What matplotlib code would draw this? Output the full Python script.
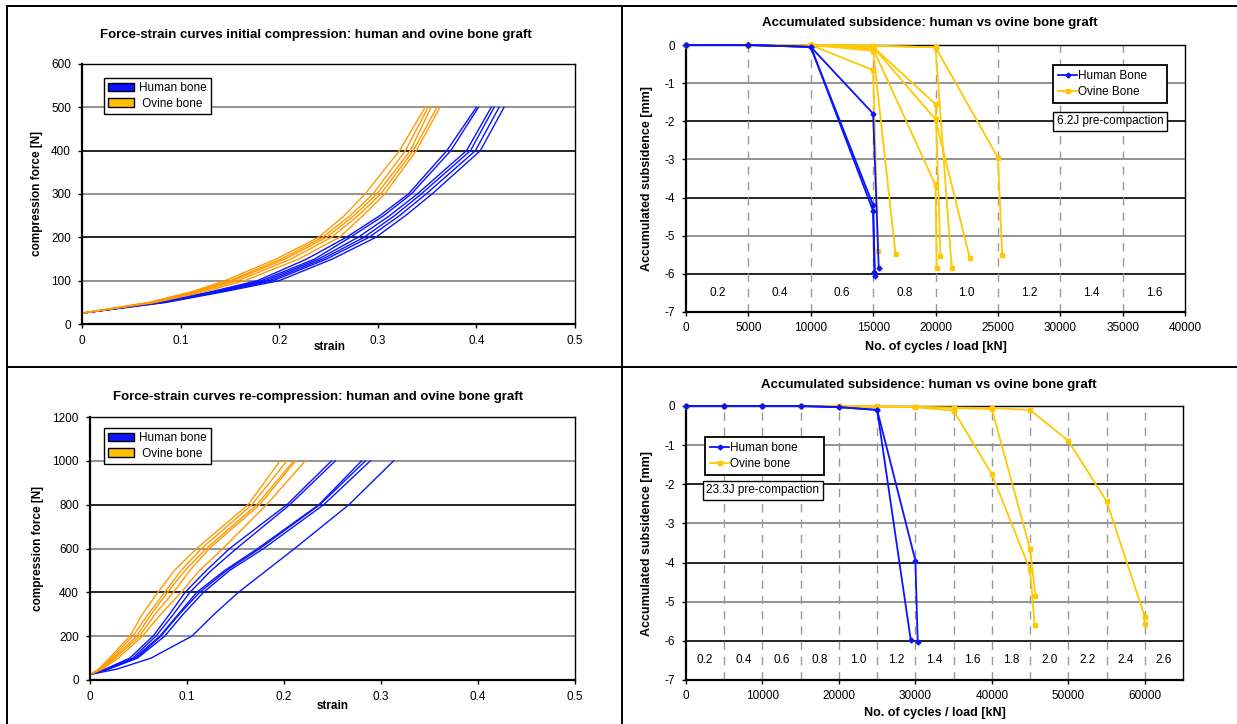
import matplotlib
matplotlib.use("Agg")
import matplotlib.pyplot as plt
from matplotlib.patches import Patch
from matplotlib.lines import Line2D

plt.rcParams['font.family'] = ['Liberation Sans', 'DejaVu Sans']
plt.rcParams['axes.unicode_minus'] = False

#===data: force-strain, initial compression===
tl_force = [25, 50, 75, 100, 150, 200, 250, 300, 400, 500]
tl_ovine = [
    [0, 0.068, 0.112, 0.145, 0.197, 0.240, 0.266, 0.287, 0.322, 0.348],
    [0, 0.070, 0.115, 0.150, 0.202, 0.244, 0.272, 0.295, 0.328, 0.351],
    [0, 0.071, 0.117, 0.153, 0.206, 0.248, 0.276, 0.299, 0.333, 0.354],
    [0, 0.073, 0.120, 0.158, 0.212, 0.253, 0.280, 0.303, 0.336, 0.360],
    [0, 0.075, 0.125, 0.165, 0.220, 0.261, 0.285, 0.307, 0.339, 0.363],
]
tl_human = [
    [0, 0.078, 0.132, 0.178, 0.228, 0.268, 0.302, 0.331, 0.370, 0.400],
    [0, 0.079, 0.135, 0.182, 0.236, 0.272, 0.306, 0.334, 0.374, 0.402],
    [0, 0.080, 0.137, 0.186, 0.240, 0.280, 0.312, 0.340, 0.390, 0.415],
    [0, 0.082, 0.139, 0.190, 0.244, 0.286, 0.317, 0.344, 0.394, 0.418],
    [0, 0.083, 0.141, 0.194, 0.248, 0.291, 0.322, 0.349, 0.399, 0.423],
    [0, 0.086, 0.145, 0.200, 0.254, 0.298, 0.328, 0.355, 0.404, 0.428],
]

#===data: force-strain, re-compression===
bl_force = [25, 50, 100, 200, 300, 400, 500, 600, 800, 1000]
bl_ovine = [
    [0, 0.009, 0.020, 0.041, 0.054, 0.070, 0.087, 0.110, 0.163, 0.196],
    [0, 0.010, 0.022, 0.044, 0.060, 0.077, 0.094, 0.115, 0.167, 0.203],
    [0, 0.011, 0.024, 0.048, 0.063, 0.080, 0.098, 0.120, 0.172, 0.210],
    [0, 0.012, 0.026, 0.051, 0.067, 0.086, 0.103, 0.123, 0.175, 0.212],
    [0, 0.013, 0.029, 0.054, 0.073, 0.094, 0.113, 0.137, 0.182, 0.222],
]
bl_human = [
    [0, 0.016, 0.041, 0.065, 0.082, 0.098, 0.120, 0.144, 0.203, 0.249],
    [0, 0.017, 0.044, 0.068, 0.086, 0.103, 0.125, 0.151, 0.206, 0.253],
    [0, 0.018, 0.046, 0.072, 0.091, 0.110, 0.139, 0.173, 0.236, 0.280],
    [0, 0.019, 0.048, 0.073, 0.092, 0.113, 0.141, 0.175, 0.237, 0.284],
    [0, 0.019, 0.049, 0.077, 0.096, 0.117, 0.144, 0.179, 0.241, 0.289],
    [0, 0.028, 0.063, 0.105, 0.128, 0.153, 0.182, 0.211, 0.267, 0.313],
]

#===data: subsidence 6.2J===
tr_human_x = [
    [0, 5000, 10000, 15000, 15450],
    [0, 5000, 10000, 15000, 15150],
    [0, 5000, 10000, 15000, 15100],
]
tr_human_y = [
    [0, 0, -0.05, -1.8, -5.85],
    [0, 0, -0.05, -4.2, -6.05],
    [0, 0, -0.05, -4.35, -5.95],
]
tr_ovine_x = [
    [0, 5000, 10000, 15000, 15400],
    [0, 5000, 10000, 15000, 16800],
    [0, 5000, 10000, 15000, 20000, 20100],
    [0, 5000, 10000, 15000, 20000, 20400],
    [0, 5000, 10000, 15000, 20000, 22750],
    [0, 5000, 10000, 15000, 20000, 21300],
    [0, 5000, 10000, 15000, 20000, 25000, 25350],
]
tr_ovine_y = [
    [0, 0, 0, -0.66, -5.39],
    [0, 0, 0, -0.15, -5.49],
    [0, 0, 0, -0.10, -3.67, -5.84],
    [0, 0, 0, -0.05, -1.55, -5.53],
    [0, 0, 0, -0.05, -1.95, -5.59],
    [0, 0, 0, -0.02, -0.06, -5.84],
    [0, 0, 0, -0.02, -0.06, -2.95, -5.51],
]
tr_loads = ["0.2", "0.4", "0.6", "0.8", "1.0", "1.2", "1.4", "1.6"]

#===data: subsidence 23.3J===
br_human_x = [
    [0, 5000, 10000, 15000, 20000, 25000, 30000, 30300],
    [0, 5000, 10000, 15000, 20000, 25000, 29400],
]
br_human_y = [
    [0, 0, 0, 0, -0.03, -0.1, -3.95, -6.02],
    [0, 0, 0, 0, -0.03, -0.1, -5.99],
]
br_ovine_x = [
    [0, 5000, 10000, 15000, 20000, 25000, 30000, 35000, 40000, 45000, 45600],
    [0, 5000, 10000, 15000, 20000, 25000, 30000, 35000, 40000, 45000, 45700],
    [0, 5000, 10000, 15000, 20000, 25000, 30000, 35000, 40000, 45000, 50000, 55000, 60000, 60000],
]
br_ovine_y = [
    [0, 0, 0, 0, 0, -0.02, -0.03, -0.12, -1.74, -4.19, -5.6],
    [0, 0, 0, 0, 0, -0.02, -0.03, -0.05, -0.08, -3.65, -4.85],
    [0, 0, 0, 0, 0, -0.01, -0.02, -0.04, -0.05, -0.1, -0.89, -2.43, -5.38, -5.58],
]
br_loads = ["0.2", "0.4", "0.6", "0.8", "1.0", "1.2", "1.4", "1.6", "1.8", "2.0", "2.2", "2.4", "2.6"]

BLUE = '#0a14ff'
ORANGE = '#ff9a00'
GOLD = '#ffc800'
W, H = 1237, 724

def px(x, y):
    return x / W, 1 - y / H

def box(l, t, r, b):
    return [l / W, 1 - b / H, (r - l) / W, (b - t) / H]

fig = plt.figure(figsize=(W / 100, H / 100), dpi=100)

#===table borders===
for (x0, y0, x1, y1) in [(7, 6, 7, 724), (622, 6, 622, 724), (7, 6, 1237, 6), (7, 367, 1237, 367)]:
    a, b = px(x0, y0)
    c, d = px(x1, y1)
    fig.add_artist(Line2D([a, c], [b, d], color='k', lw=1.4, transform=fig.transFigure))

def style(ax, grid_vals):
    for s in ['left', 'bottom']:
        ax.spines[s].set_linewidth(1.6)
    for s in ['top', 'right']:
        ax.spines[s].set_linewidth(1.0)
    ax.tick_params(labelsize=8.5, length=3, width=1, direction='out', pad=5)
    for i, g in enumerate(grid_vals):
        ax.axhline(g, color='k' if i % 2 else '#808080', lw=1.2, zorder=0.5)

#===top left===
ax1 = fig.add_axes(box(82, 64, 575, 324))
for s in tl_human:
    ax1.plot(s, tl_force, color=BLUE, lw=1.0)
for s in tl_ovine:
    ax1.plot(s, tl_force, color=ORANGE, lw=1.0)
ax1.set_xlim(0, 0.5)
ax1.set_ylim(0, 600)
ax1.set_xticks([0, 0.1, 0.2, 0.3, 0.4, 0.5])
ax1.set_xticklabels(['0', '0.1', '0.2', '0.3', '0.4', '0.5'])
ax1.set_yticks(range(0, 601, 100))
style(ax1, [500, 400, 300, 200, 100])
ax1.set_ylabel('compression force [N]', fontsize=8.5, fontweight='bold', labelpad=6)
ax1.set_xlabel('strain', fontsize=8.5, fontweight='bold')
ax1.xaxis.set_label_coords(0.503, -0.065)
leg_h = [Patch(facecolor=BLUE, edgecolor='k', label='Human bone'),
         Patch(facecolor='#ffc000', edgecolor='k', label=' Ovine bone')]
l1 = ax1.legend(handles=leg_h, loc='upper left', bbox_to_anchor=(0.045, 0.946), fontsize=8.5,
                frameon=True, fancybox=False, edgecolor='k', framealpha=1, borderpad=0.35,
                handlelength=2.2, handleheight=0.7, labelspacing=0.3, handletextpad=0.4, borderaxespad=0)
l1.get_frame().set_linewidth(1.0)

#===bottom left===
ax3 = fig.add_axes(box(90, 417, 575, 680))
for s in bl_human:
    ax3.plot(s, bl_force, color=BLUE, lw=1.0)
for s in bl_ovine:
    ax3.plot(s, bl_force, color=ORANGE, lw=1.0)
ax3.set_xlim(0, 0.5)
ax3.set_ylim(0, 1200)
ax3.set_xticks([0, 0.1, 0.2, 0.3, 0.4, 0.5])
ax3.set_xticklabels(['0', '0.1', '0.2', '0.3', '0.4', '0.5'])
ax3.set_yticks(range(0, 1201, 200))
style(ax3, [1000, 800, 600, 400, 200])
ax3.set_ylabel('compression force [N]', fontsize=8.5, fontweight='bold', labelpad=6)
ax3.set_xlabel('strain', fontsize=8.5, fontweight='bold')
ax3.xaxis.set_label_coords(0.501, -0.075)
l3 = ax3.legend(handles=leg_h, loc='upper left', bbox_to_anchor=(0.029, 0.958), fontsize=8.5,
                frameon=True, fancybox=False, edgecolor='k', framealpha=1, borderpad=0.35,
                handlelength=2.2, handleheight=0.7, labelspacing=0.3, handletextpad=0.4, borderaxespad=0)
l3.get_frame().set_linewidth(1.0)

def subsidence(ax, hx, hy, ox, oy, xmax, loads, hlab, olab):
    for i in range(len(ox)):
        ax.plot(ox[i], oy[i], color=GOLD, lw=1.3, marker='s', ms=2.2, clip_on=False, zorder=3,
                label=olab if i == 0 else None)
    for i in range(len(hx)):
        ax.plot(hx[i], hy[i], color=BLUE, lw=1.3, marker='D', ms=2.5, clip_on=False, zorder=4,
                label=hlab if i == 0 else None)
    ax.set_xlim(0, xmax)
    ax.set_ylim(-7, 0)
    ax.set_yticks(range(-7, 1))
    for xv in range(5000, xmax, 5000):
        ax.axvline(xv, color='#999999', lw=1.0, ls=(0, (6, 5)), zorder=0.6)
    for i, lab in enumerate(loads):
        ax.text(2500 + i * 5000, -6.5, lab, ha='center', va='center', fontsize=8.5)
    style(ax, [-1, -2, -3, -4, -5, -6])
    ax.tick_params(axis='x', pad=4)
    ax.set_ylabel('Accumulated subsidence [mm]', fontsize=9, fontweight='bold', labelpad=8)
    ax.set_xlabel('No. of cycles / load [kN]', fontsize=9, fontweight='bold')

def sub_legend(ax, x0, top, w):
    h, lb = ax.get_legend_handles_labels()
    lg = ax.legend(h[::-1], lb[::-1], loc='upper left', bbox_to_anchor=(x0, top - 0.3, w, 0.3),
                   mode='expand', fontsize=8.5, frameon=True, fancybox=False, edgecolor='k',
                   framealpha=1, borderpad=0.45, handlelength=1.6, labelspacing=0.3,
                   handletextpad=0.1, borderaxespad=0)
    lg.get_frame().set_linewidth(1.3)
    return lg

#===top right===
ax2 = fig.add_axes(box(686, 45, 1185, 312))
subsidence(ax2, tr_human_x, tr_human_y, tr_ovine_x, tr_ovine_y, 40000, tr_loads, 'Human Bone', 'Ovine Bone')
ax2.set_xticks(range(0, 40001, 5000))
ax2.xaxis.set_label_coords(0.5, -0.11)
sub_legend(ax2, 0.735, 0.925, 0.228)
ax2.text(0.85, 0.715, '6.2J pre-compaction', transform=ax2.transAxes, ha='center', va='center',
         fontsize=8.5, bbox=dict(boxstyle='square,pad=0.3', fc='white', ec='k', lw=1.0))

#===bottom right===
ax4 = fig.add_axes(box(686, 406, 1183, 680))
subsidence(ax4, br_human_x, br_human_y, br_ovine_x, br_ovine_y, 65000, br_loads, 'Human bone', 'Ovine bone')
ax4.set_xticks(range(0, 60001, 10000))
ax4.xaxis.set_label_coords(0.5, -0.1)
sub_legend(ax4, 0.038, 0.887, 0.239)
ax4.text(0.041, 0.693, '23.3J pre-compaction', transform=ax4.transAxes, ha='left', va='center',
         fontsize=8.5, bbox=dict(boxstyle='square,pad=0.3', fc='white', ec='k', lw=1.0))

#===titles===
titles = [
    ('Force-strain curves initial compression: human and ovine bone graft', 316, 35),
    ('Accumulated subsidence: human vs ovine bone graft', 930, 23),
    ('Force-strain curves re-compression: human and ovine bone graft', 318, 397),
    ('Accumulated subsidence: human vs ovine bone graft', 929, 385),
]
for t, x, y in titles:
    a, b = px(x, y)
    fig.text(a, b, t, ha='center', va='center', fontsize=9.5, fontweight='bold')

fig.savefig('out.png', dpi=100)
